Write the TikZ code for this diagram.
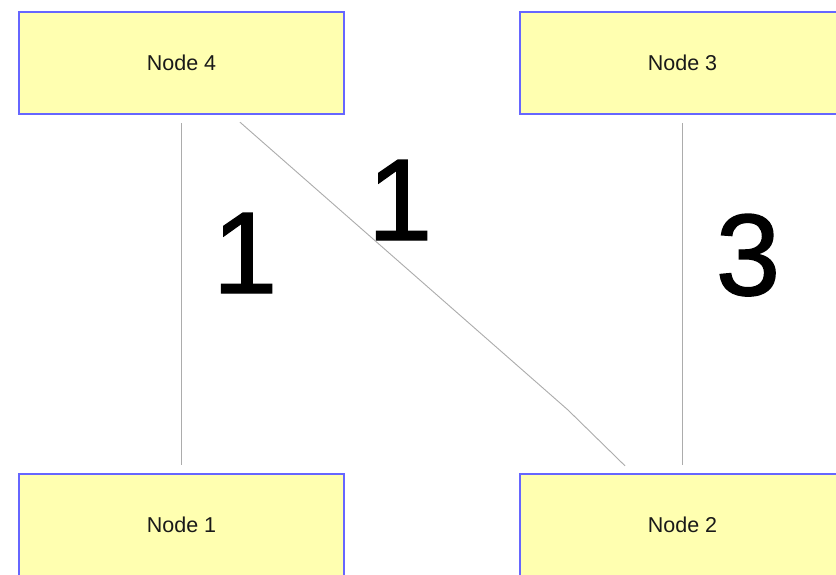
\documentclass[tikz,border=0pt]{standalone}
\usepackage{fontspec}
\setmainfont{Liberation Sans}
\newfontfamily\weightfont[FakeBold=1.2]{Liberation Sans}
\begin{document}
\begin{tikzpicture}[x=1pt,y=-1pt,
  box/.style={draw=boxblue, fill=boxfill, line width=2.4pt, rectangle,
    minimum width=325pt, minimum height=102pt, inner sep=0pt,
    font=\fontsize{21.5}{24}\selectfont, text=black!90},
  edge/.style={draw=edgegray, line width=0.9pt},
  weight/.style={anchor=base, inner sep=0pt, font=\weightfont\fontsize{116}{120}\selectfont}]
\definecolor{boxblue}{RGB}{102,102,255}
\definecolor{boxfill}{RGB}{255,255,176}
\definecolor{edgegray}{RGB}{172,172,172}
\useasboundingbox (0,0) rectangle (836,574);
\clip (0,0) rectangle (836,574);
\fill[white] (0,0) rectangle (836,574);

% nodes
\node[box] (n4) at (181.5,63) {Node 4};
\node[box] (n3) at (682.5,63) {Node 3};
\node[box] (n1) at (181.5,525) {Node 1};
\node[box] (n2) at (682.5,525) {Node 2};

% connectors
\draw[edge] ([yshift=-8pt]n4.south) -- ([yshift=8pt]n1.north);
\draw[edge] ([yshift=-8pt]n3.south) -- ([yshift=8pt]n2.north);
\coordinate (bend) at (568,410);
\draw[edge] ([xshift=58.5pt,yshift=-7pt]n4.south) -- (bend)
  -- ([xshift=-57.5pt,yshift=7pt]n2.north);

% weights
\node[weight] (w41) at (245,293) {1};
\node[weight] (w42) at (400,240) {1};
\node[weight] (w32) at (748,295) {3};
\end{tikzpicture}
\end{document}
